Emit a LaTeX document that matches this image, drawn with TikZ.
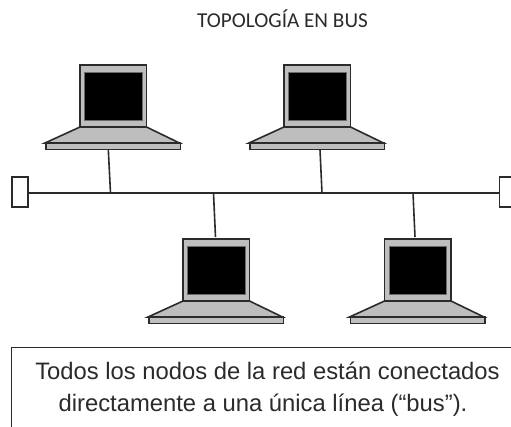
\documentclass[tikz,border=0pt]{standalone}
\usepackage{fontspec}
\setmainfont{Liberation Sans}
\newfontfamily\titlefont{Carlito}
\definecolor{ink}{HTML}{2B2B2B}
\definecolor{lapgrey}{HTML}{BEBEBE}
\tikzset{
  wire/.style={draw=ink,line width=1.6pt},
  lid/.style={wire,fill=lapgrey},
  panel/.style={draw=ink!70,line width=.8pt,fill=black},
  laptop/.pic={
    \draw[lid] (-33.5,0) -- (-68.5,16) -- (66,16) -- (33,0) -- cycle;
    \draw[lid] (-67.5,16) rectangle (67,22.5);
    \draw[lid] (-33.5,-62) rectangle (33,0);
    \draw[panel] (-29,-55) rectangle (28.5,-7);
  },
  termin/.style={draw=ink,line width=1.6pt,fill=white,minimum width=16.5pt,minimum height=30pt,inner sep=0pt,outer sep=0pt,rectangle},
  caption/.style={text=ink,font=\fontsize{23.8pt}{28pt}\selectfont,inner sep=0pt,anchor=base}
}
\begin{document}
\begin{tikzpicture}[x=1pt,y=-1pt]
\path[use as bounding box,clip] (0,0) rectangle (511,426);
\fill[white] (0,0) rectangle (511,426);
\node[text=ink,font=\titlefont\fontsize{21.2pt}{25pt}\selectfont,inner sep=0pt,anchor=base] (title) at (282.5,27) {TOPOLOGÍA EN BUS};

\pic at (113.5,127) {laptop};
\pic at (317.5,127) {laptop};
\pic at (216.5,301) {laptop};
\pic at (418,301) {laptop};

\node[termin] (tl) at (20,192) {};
\node[termin] (tr) at (507.75,192) {};
\draw[wire] (tl.east|-0,193) coordinate (ba) -- (tr.west|-0,193) coordinate (bb);

\coordinate (u1) at (108.3,149.5); \coordinate (j1) at (110.5,193);
\coordinate (u2) at (320,149.5);   \coordinate (j2) at (322,193);
\coordinate (u3) at (215.5,237);   \coordinate (j3) at (213.5,193);
\coordinate (u4) at (415,237);     \coordinate (j4) at (413,193);
\draw[wire] (u1) -- (j1);
\draw[wire] (u2) -- (j2);
\draw[wire] (u3) -- (j3);
\draw[wire] (u4) -- (j4);

\draw[wire] (11.5,430) -- (11.5,347.5) -- (515,347.5);
\node[caption] (l1) at (267.5,379) {Todos los nodos de la red están conectados};
\node[caption] (l2) at (263,411.5) {directamente a una única línea (“bus”).};
\end{tikzpicture}
\end{document}
